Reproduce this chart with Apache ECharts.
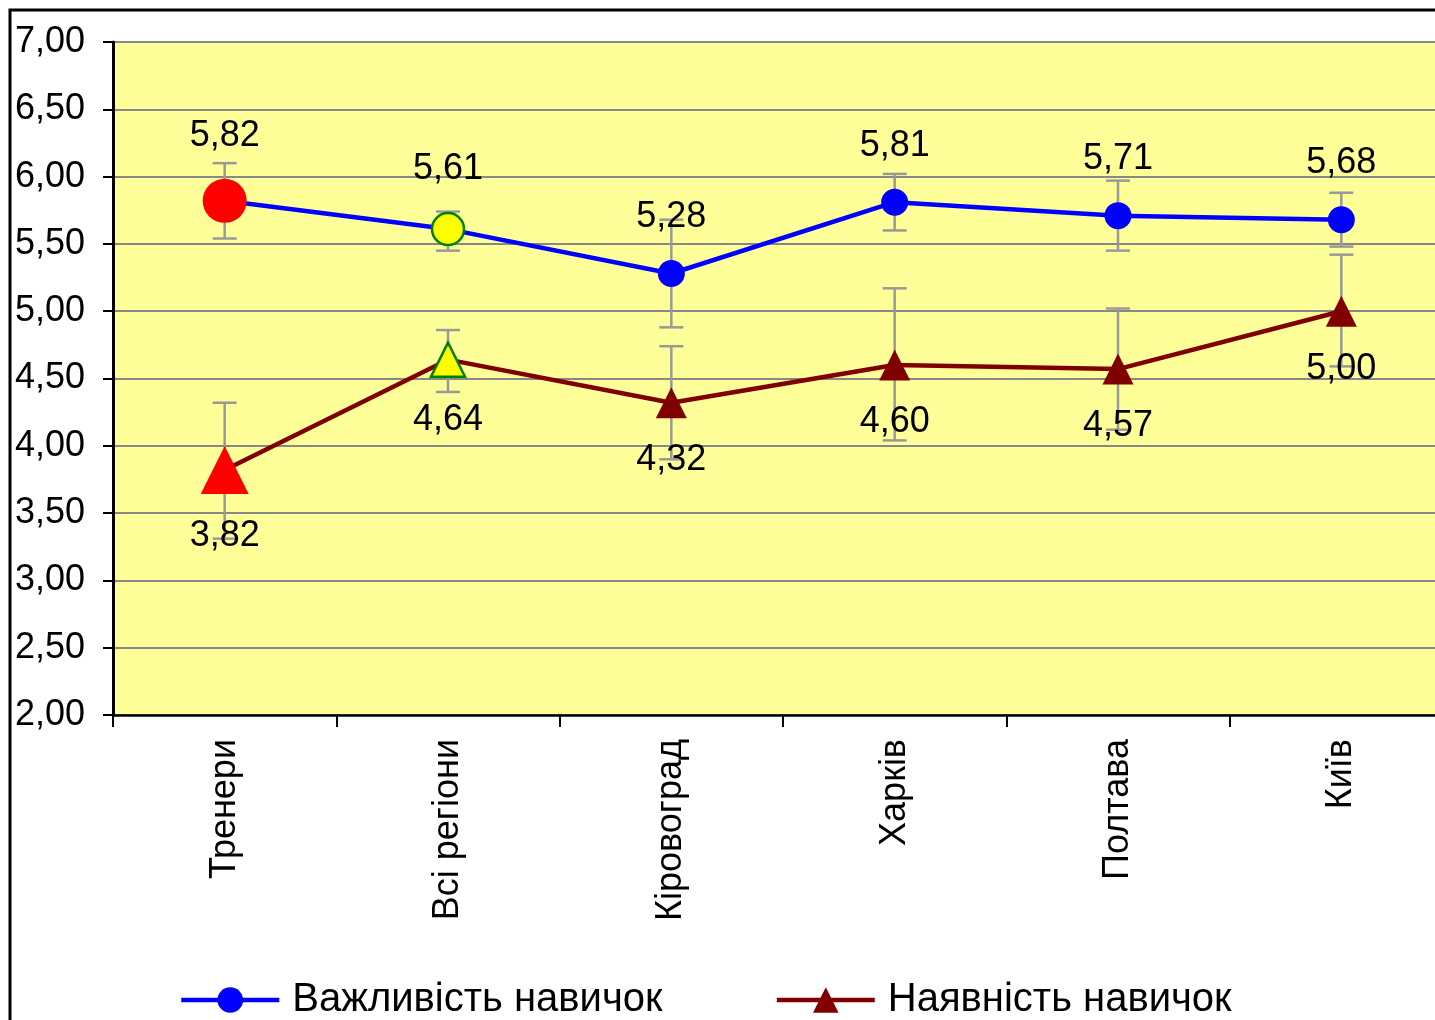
<!DOCTYPE html>
<html>
<head>
<meta charset="utf-8">
<script src="https://cdn.jsdelivr.net/npm/echarts@6/dist/echarts.min.js"></script>
<style>
html,body{margin:0;padding:0;background:#fff;}
#chart{width:1435px;height:1020px;}
</style>
</head>
<body>
<div id="chart"></div>
<script>
const categories = ['Тренери', 'Всі регіони', 'Кіровоград', 'Харків', 'Полтава', 'Київ'];
const seriesNames = ['Важливість навичок', 'Наявність навичок'];
const importance = [5.82, 5.61, 5.28, 5.81, 5.71, 5.68];
const presence = [3.82, 4.64, 4.32, 4.60, 4.57, 5.00];
const importanceHigh = [6.10, 5.74, 5.68, 6.02, 5.97, 5.88];
const importanceLow = [5.54, 5.45, 4.88, 5.60, 5.45, 5.48];
const presenceHigh = [4.32, 4.86, 4.74, 5.17, 5.02, 5.42];
const presenceLow = [3.31, 4.40, 3.90, 4.04, 4.12, 4.59];
const yMin = 2, yMax = 7, yStep = 0.5;

const FONT = '"Liberation Sans", Arial, sans-serif';
const fmt = v => Number(v).toFixed(2).replace('.', ',');

function errData(low, high) {
  return categories.map((c, i) => [i, low[i], high[i]]);
}
function renderErr(params, api) {
  const lo = api.coord([api.value(0), api.value(1)]);
  const hi = api.coord([api.value(0), api.value(2)]);
  const cap = 12;
  const st = { stroke: '#999999', lineWidth: 2.5 };
  return {
    type: 'group',
    children: [
      { type: 'line', shape: { x1: lo[0], y1: lo[1], x2: hi[0], y2: hi[1] }, style: st },
      { type: 'line', shape: { x1: lo[0] - cap, y1: lo[1], x2: lo[0] + cap, y2: lo[1] }, style: st },
      { type: 'line', shape: { x1: hi[0] - cap, y1: hi[1], x2: hi[0] + cap, y2: hi[1] }, style: st }
    ]
  };
}

const impData = importance.map((v, i) => {
  if (i === 0) return { value: v, symbolSize: 44, itemStyle: { color: '#FF0000', borderWidth: 0 } };
  if (i === 1) return { value: v, symbolSize: 32, itemStyle: { color: '#FFFF00', borderColor: '#008000', borderWidth: 2.5 } };
  return v;
});
const preData = presence.map((v, i) => {
  if (i === 0) return { value: v, symbolSize: 48, itemStyle: { color: '#FF0000', borderWidth: 0 } };
  if (i === 1) return { value: v, symbolSize: 34, itemStyle: { color: '#FFFF00', borderColor: '#008000', borderWidth: 2.5 } };
  return v;
});

const chart = echarts.init(document.getElementById('chart'));
chart.setOption({
  animation: false,
  backgroundColor: '#ffffff',
  textStyle: { fontFamily: FONT },
  graphic: [
    { type: 'rect', z: 100, silent: true, shape: { x: 10, y: 10, width: 1600, height: 1200 },
      style: { fill: 'none', stroke: '#000', lineWidth: 3 } }
  ],
  legend: {
    left: 174, top: 975,
    itemWidth: 98, itemHeight: 32, itemGap: 112,
    lineStyle: { width: 4.5 },
    textStyle: { fontSize: 40, color: '#000', fontFamily: FONT, padding: [0, 0, 0, 8] },
    data: seriesNames
  },
  grid: {
    left: 113, top: 42, right: -18, bottom: 305,
    containLabel: false, outerBoundsMode: 'none',
    show: true, backgroundColor: '#FFFF99', borderWidth: 0
  },
  xAxis: {
    type: 'category', data: categories, boundaryGap: true,
    axisLine: { lineStyle: { color: '#000', width: 2.5 } },
    axisTick: { show: true, length: 12, lineStyle: { color: '#000', width: 2 } },
    axisLabel: { rotate: 90, margin: 24, fontSize: 36, color: '#000', fontFamily: FONT },
    splitLine: { show: false }
  },
  yAxis: {
    type: 'value', min: yMin, max: yMax, interval: yStep,
    axisLine: { show: true, lineStyle: { color: '#000', width: 3 } },
    axisTick: { show: true, inside: false, length: 10, lineStyle: { color: '#000', width: 2 } },
    axisLabel: { margin: 28, fontSize: 36, color: '#000', fontFamily: FONT, formatter: fmt },
    splitLine: { show: true, lineStyle: { color: '#888888', width: 2 } }
  },
  series: [
    { type: 'custom', name: 'errImp', renderItem: renderErr, data: errData(importanceLow, importanceHigh),
      encode: { x: 0, y: [1, 2] }, z: 1, silent: true },
    { type: 'custom', name: 'errPre', renderItem: renderErr, data: errData(presenceLow, presenceHigh),
      encode: { x: 0, y: [1, 2] }, z: 1, silent: true },
    {
      name: seriesNames[0], type: 'line', data: impData, z: 3,
      symbol: 'circle', symbolSize: 27,
      lineStyle: { color: '#0000FF', width: 4.5 },
      itemStyle: { color: '#0000FF' },
      label: { show: true, position: 'top', distance: 25, fontSize: 36, color: '#000', fontFamily: FONT,
        formatter: p => fmt(p.value) }
    },
    {
      name: seriesNames[1], type: 'line', data: preData, z: 3,
      symbol: 'triangle', symbolSize: 31,
      lineStyle: { color: '#800000', width: 4.5 },
      itemStyle: { color: '#800000' },
      label: { show: true, position: 'bottom', distance: 24, fontSize: 36, color: '#000', fontFamily: FONT,
        formatter: p => fmt(p.value) }
    }
  ]
});
</script>
</body>
</html>
